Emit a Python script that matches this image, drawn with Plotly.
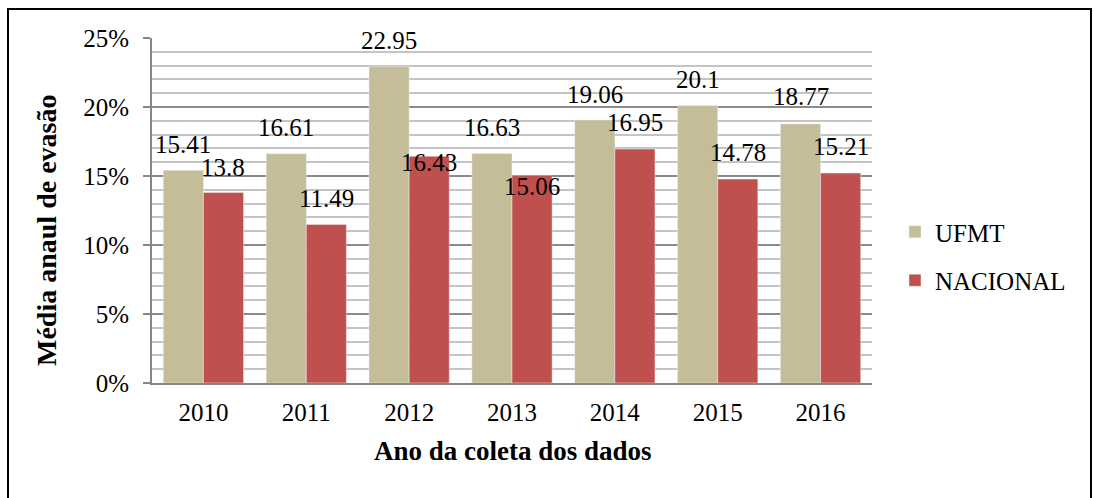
import plotly.graph_objects as go

years = ["2010", "2011", "2012", "2013", "2014", "2015", "2016"]
ufmt = [15.41, 16.61, 22.95, 16.63, 19.06, 20.1, 18.77]
nacional = [13.8, 11.49, 16.43, 15.06, 16.95, 14.78, 15.21]
ytick_vals = [0, 5, 10, 15, 20, 25]
ytick_text = ["0%", "5%", "10%", "15%", "20%", "25%"]

# label vertical offsets (px above bar top), style only
ufmt_shift = [26, 26, 26, 26, 25, 26, 27]
nac_shift = [25, 26, -6, -11, 27, 27, 27]

FONT = "Liberation Serif"
C_UFMT = "#C4BD97"
C_NAC = "#C0504D"

xpos = list(range(len(years)))

fig = go.Figure()
fig.add_trace(go.Bar(x=xpos, y=ufmt, name="UFMT", marker_color=C_UFMT,
                     legendgroup="a"))
fig.add_trace(go.Bar(x=xpos, y=nacional, name="NACIONAL", marker_color=C_NAC,
                     legendgroup="b"))

annotations = []
for i, v, s in zip(xpos, ufmt, ufmt_shift):
    annotations.append(dict(x=i, y=v, xref="x", yref="y", text=f"{v:g}", showarrow=False,
                            xshift=-20, yshift=s, yanchor="middle", xanchor="center",
                            font=dict(family=FONT, size=25, color="black")))
for i, v, s in zip(xpos, nacional, nac_shift):
    annotations.append(dict(x=i, y=v, xref="x", yref="y", text=f"{v:g}", showarrow=False,
                            xshift=20, yshift=s, yanchor="middle", xanchor="center",
                            font=dict(family=FONT, size=25, color="black")))

# axis titles
annotations.append(dict(xref="paper", yref="paper", x=(513 - 152) / 720, y=(383 - 451) / 345,
                        text="<b>Ano da coleta dos dados</b>", showarrow=False,
                        xanchor="center", yanchor="middle",
                        font=dict(family=FONT, size=27, color="black")))
annotations.append(dict(xref="paper", yref="paper", x=(47 - 152) / 720, y=(383 - 231) / 345,
                        text="<b>Média anaul de evasão</b>", showarrow=False, textangle=-90,
                        xanchor="center", yanchor="middle",
                        font=dict(family=FONT, size=28, color="black")))

fig.update_layout(
    width=1094, height=498,
    margin=dict(l=152, r=222, t=38, b=115),
    paper_bgcolor="white", plot_bgcolor="white",
    barmode="group", bargap=0.22, bargroupgap=0,
    font=dict(family=FONT, size=25, color="black"),
    annotations=annotations,
    legend=dict(x=(895 - 152) / 720, y=(383 - 209) / 345, xanchor="left", yanchor="top",
                font=dict(family=FONT, size=25, color="black"),
                tracegroupgap=13, bgcolor="rgba(0,0,0,0)"),
    shapes=[dict(type="rect", xref="paper", yref="paper",
                 x0=(8 - 152) / 720, x1=(1091 - 152) / 720,
                 y0=(383 - 520) / 345, y1=(383 - 9) / 345,
                 line=dict(color="black", width=2), fillcolor="rgba(0,0,0,0)")],
)

fig.update_xaxes(
    range=[-0.5, len(years) - 0.5], tickvals=xpos, ticktext=years,
    showgrid=False, showline=True, linecolor="#868686", linewidth=2, zeroline=False,
    ticks="outside", ticklen=6, tickcolor="rgba(0,0,0,0)",
    tickfont=dict(family=FONT, size=25, color="black"),
)
fig.update_yaxes(
    range=[0, 25], tickvals=ytick_vals, ticktext=ytick_text,
    showgrid=True, gridcolor="#8a8a8a", gridwidth=2,
    showline=True, linecolor="#868686", linewidth=2,
    ticks="outside", ticklen=7, tickcolor="#868686", tickwidth=2,
    ticklabelstandoff=9,
    tickfont=dict(family=FONT, size=25, color="black"),
    minor=dict(dtick=1, showgrid=True, gridcolor="#c4c4c4", gridwidth=1.5, ticks=""),
    zeroline=False,
)

fig.write_html("out.html", config={"displayModeBar": False},
               post_script="document.body.style.margin='0';")
